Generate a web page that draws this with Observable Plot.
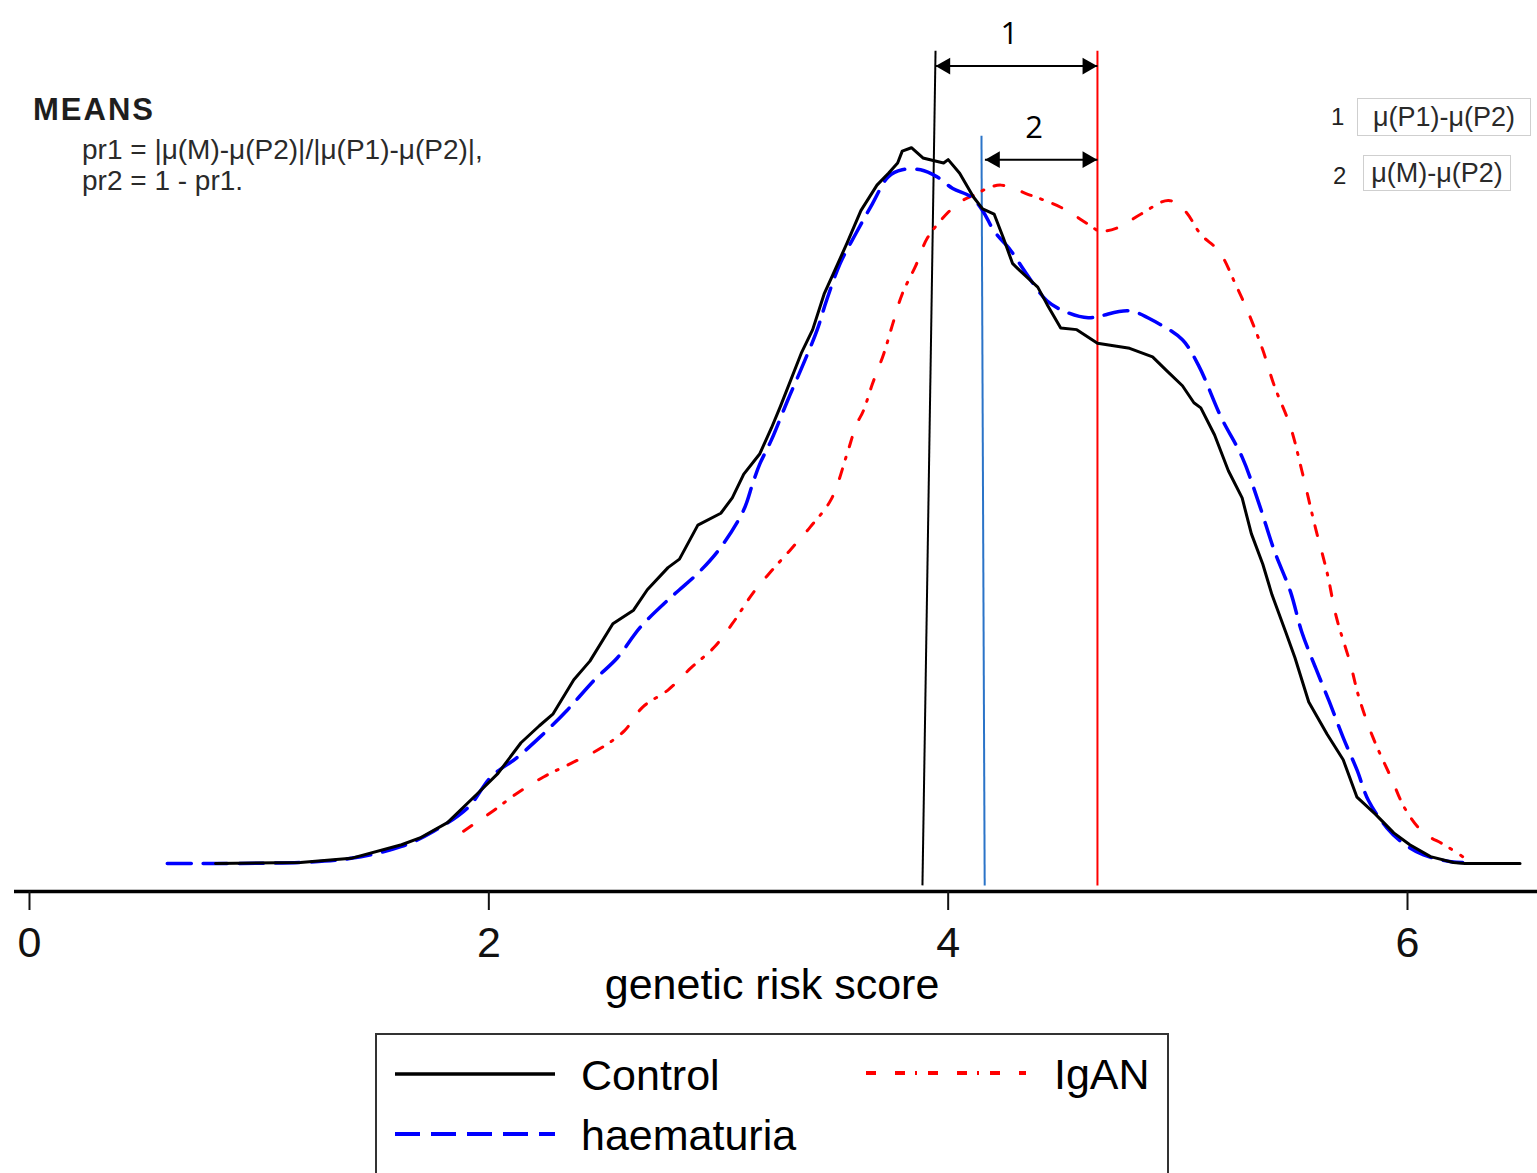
<!DOCTYPE html>
<html>
<head>
<meta charset="utf-8">
<script src="https://cdn.jsdelivr.net/npm/d3@7"></script>
<script src="https://cdn.jsdelivr.net/npm/@observablehq/plot@0.6"></script>
<style>
  html, body { margin: 0; padding: 0; background: #fff; height: 1173px; overflow: hidden; }
  body { font-family: "Liberation Sans", Arial, sans-serif; color: #000; }
  #wrap { position: relative; width: 1537px; height: 1173px; }
  #chart { position: absolute; left: 0; top: 0; }
  .note { position: absolute; white-space: nowrap; color: #2a2a2a; line-height: 1; }
  .means { left: 33px; top: 94px; font-size: 31px; font-weight: bold; letter-spacing: 2px; color: #1e1e1e; }
  .pr { left: 82px; font-size: 28px; }
  .num { font-size: 24px; color: #222; }
  .box { position: absolute; border: 1px solid #cfcfcf; display: flex; align-items: center; justify-content: center;
         font-size: 27px; color: #2a2a2a; box-sizing: border-box; white-space: nowrap; background: #fff; }
  #legend { position: absolute; left: 375px; top: 1033px; }
</style>
</head>
<body>
<div id="wrap">
  <div id="chart"></div>
  <div class="note means">MEANS</div>
  <div class="note pr" style="top:136px">pr1 = |μ(M)-μ(P2)|/|μ(P1)-μ(P2)|,</div>
  <div class="note pr" style="top:167px">pr2 = 1 - pr1.</div>
  <div class="note num" style="left:1331px; top:105px">1</div>
  <div class="box" style="left:1357px; top:98px; width:174px; height:38px">μ(P1)-μ(P2)</div>
  <div class="note num" style="left:1333px; top:164px">2</div>
  <div class="box" style="left:1363px; top:155px; width:148px; height:36px">μ(M)-μ(P2)</div>
  <div id="legend"></div>
</div>
<script>
// Kernel density estimates of the genetic risk score, one per group: [score, density]
const control = [
  [0.81,0],[1.18,0.0006],[1.40,0.003],[1.62,0.011],[1.70,0.015],[1.82,0.024],[1.95,0.041],[2.04,0.053],
  [2.14,0.071],[2.22,0.081],[2.28,0.088],[2.37,0.108],[2.44,0.119],[2.54,0.141],[2.63,0.149],[2.69,0.161],
  [2.78,0.174],[2.83,0.179],[2.91,0.199],[3.01,0.206],[3.06,0.215],[3.11,0.229],[3.18,0.241],[3.23,0.256],
  [3.27,0.269],[3.36,0.300],[3.41,0.314],[3.46,0.335],[3.50,0.347],[3.56,0.365],[3.62,0.384],[3.69,0.399],
  [3.74,0.406],[3.78,0.412],[3.80,0.419],[3.84,0.421],[3.89,0.415],[3.98,0.412],[4.00,0.414],[4.05,0.406],
  [4.11,0.392],[4.15,0.385],[4.20,0.382],[4.24,0.368],[4.28,0.353],[4.31,0.349],[4.39,0.339],[4.43,0.329],
  [4.49,0.315],[4.56,0.314],[4.65,0.306],[4.79,0.303],[4.89,0.298],[4.95,0.290],[5.02,0.281],[5.07,0.271],
  [5.10,0.268],[5.16,0.252],[5.22,0.231],[5.28,0.215],[5.32,0.194],[5.37,0.176],[5.41,0.158],[5.47,0.136],
  [5.51,0.121],[5.57,0.095],[5.65,0.076],[5.72,0.061],[5.78,0.039],[5.86,0.029],[5.94,0.018],[6.01,0.011],
  [6.10,0.004],[6.20,0.0006],[6.25,0],[6.49,0]
];
const haematuria = [
  [0.60,0],[1.18,0.0006],[1.40,0.003],[1.62,0.010],[1.76,0.019],[1.91,0.033],[2.01,0.051],[2.12,0.062],
  [2.22,0.074],[2.34,0.090],[2.46,0.108],[2.56,0.121],[2.66,0.139],[2.78,0.155],[2.83,0.161],[2.92,0.172],
  [3.01,0.186],[3.11,0.208],[3.15,0.224],[3.18,0.235],[3.23,0.249],[3.30,0.272],[3.37,0.294],[3.43,0.314],
  [3.47,0.331],[3.53,0.353],[3.60,0.371],[3.67,0.388],[3.74,0.404],[3.80,0.408],[3.88,0.408],[3.95,0.404],
  [4.02,0.397],[4.10,0.392],[4.15,0.384],[4.20,0.372],[4.27,0.361],[4.34,0.347],[4.43,0.331],[4.52,0.324],
  [4.61,0.321],[4.66,0.322],[4.79,0.325],[4.91,0.318],[5.02,0.308],[5.09,0.293],[5.19,0.262],[5.28,0.239],
  [5.35,0.213],[5.42,0.184],[5.49,0.160],[5.54,0.136],[5.60,0.115],[5.66,0.095],[5.72,0.074],[5.78,0.055],
  [5.83,0.037],[5.91,0.021],[5.98,0.012],[6.07,0.005],[6.19,0.001],[6.24,0.0006]
];
const igan = [
  [1.89,0.019],[2.02,0.031],[2.12,0.041],[2.24,0.051],[2.36,0.059],[2.49,0.068],[2.59,0.078],[2.67,0.092],
  [2.78,0.102],[2.88,0.115],[2.98,0.127],[3.06,0.141],[3.15,0.159],[3.23,0.172],[3.31,0.184],[3.40,0.198],
  [3.49,0.214],[3.56,0.241],[3.60,0.258],[3.63,0.266],[3.67,0.282],[3.72,0.300],[3.76,0.318],[3.80,0.335],
  [3.86,0.352],[3.91,0.368],[4.00,0.383],[4.05,0.389],[4.11,0.393],[4.17,0.397],[4.23,0.399],[4.36,0.393],
  [4.49,0.386],[4.61,0.376],[4.66,0.372],[4.74,0.374],[4.84,0.382],[4.96,0.390],[5.03,0.384],[5.10,0.370],
  [5.18,0.360],[5.25,0.341],[5.31,0.323],[5.37,0.302],[5.42,0.281],[5.49,0.257],[5.54,0.231],[5.60,0.197],
  [5.65,0.171],[5.69,0.145],[5.75,0.118],[5.79,0.097],[5.85,0.074],[5.93,0.050],[5.99,0.032],[6.07,0.018],
  [6.16,0.011],[6.24,0.004]
];

const groups = ["Control", "haematuria", "IgAN"];
const series = [control, haematuria, igan];

// Group means, drawn as vertical markers (Control's marker leans a little)
const meanAtBase = [3.888, 4.159, 4.650];
const meanAtTop  = [3.945, 4.145, 4.650];
const meanTopDensity = [0.478, 0.428, 0.478];

// Distances between means: 1 = μ(P1)-μ(P2), 2 = μ(M)-μ(P2)
const gapLabels = ["1", "2"];
const gapFrom = [3.944, 4.160];
const gapTo = [4.650, 4.650];
const gapDensity = [0.469, 0.414];

const xTicks = [0, 2, 4, 6];
const xTitle = "genetic risk score";

// ---- presentation ----
const W = 1537, H = 1025, axisY = 891;
const yMin = -0.0165, yMax = 0.5076;
const lineColor = {Control: "#000000", haematuria: "#0000ff", IgAN: "#ff0000"};
const meanColor = {Control: "#000000", haematuria: "#2b74c8", IgAN: "#ff0000"};
const lineDash = {Control: null, haematuria: "24,12", IgAN: "10,19,10,10,2,11"};
const lineWidth = {Control: 3, haematuria: 3.5, IgAN: 3};
const lineCurve = {Control: "linear", haematuria: "catmull-rom", IgAN: "catmull-rom"};
const font = "'Liberation Sans', Arial, sans-serif";

const curveMarks = [2, 1, 0].map(i => {
  const g = groups[i];
  return Plot.line(series[i], {
    x: d => d[0], y: d => d[1],
    stroke: lineColor[g], strokeWidth: lineWidth[g],
    strokeDasharray: lineDash[g], curve: lineCurve[g],
    strokeLinejoin: "round"
  });
});

const meanMarks = groups.map((g, i) => Plot.link([i], {
  x1: j => meanAtBase[j], y1: yMin + 0.0036,
  x2: j => meanAtTop[j], y2: j => meanTopDensity[j],
  stroke: meanColor[g], strokeWidth: 2
}));

const gi = gapLabels.map((_, i) => i);

const chart = Plot.plot({
  width: W, height: H,
  marginLeft: 14, marginRight: 0, marginTop: 0, marginBottom: H - axisY,
  x: {domain: [-0.0653, 6.566]},
  y: {domain: [yMin, yMax], axis: null},
  style: {fontFamily: font, background: "#fff", color: "#000", overflow: "visible"},
  marks: [
    ...meanMarks,
    ...curveMarks,
    Plot.ruleY([yMin], {stroke: "#000", strokeWidth: 3.5}),
    Plot.axisX({ticks: xTicks, tickSize: 19, tickPadding: 16, fontSize: 43, label: null,
                color: "#111", strokeWidth: 2, tickFormat: d => String(d)}),
    Plot.text([xTitle], {frameAnchor: "bottom", lineAnchor: "middle", dy: 94, dx: -4, fontSize: 43, fill: "#000"}),
    // double-headed arrows between the means
    Plot.link(gi, {x1: i => gapFrom[i], x2: i => gapTo[i], y1: i => gapDensity[i], y2: i => gapDensity[i],
                   stroke: "#000", strokeWidth: 2}),
    Plot.dot(gi, {x: i => gapFrom[i], y: i => gapDensity[i], symbol: "triangle", rotate: -90, r: 6.3,
                  fill: "#000", stroke: "none", dx: 10}),
    Plot.dot(gi, {x: i => gapTo[i], y: i => gapDensity[i], symbol: "triangle", rotate: 90, r: 6.3,
                  fill: "#000", stroke: "none", dx: -10}),
    Plot.text(gi, {x: i => (gapFrom[i] + gapTo[i]) / 2, y: i => gapDensity[i], text: i => gapLabels[i],
                   dy: -32, dx: -7, fontSize: 31, fill: "#000", fontFamily: "'Open Sans', sans-serif"})
  ]
});
document.getElementById("chart").appendChild(chart);

// ---- legend ----
const LW = 794, LH = 142;
const slots = {
  Control:    {x: 20,  y: 41,  tx: 206},
  IgAN:       {x: 491, y: 40,  tx: 679},
  haematuria: {x: 20,  y: 101, tx: 206}
};
const leg = d3.select("#legend").append("svg").attr("width", LW).attr("height", LH);
leg.append("rect").attr("x", 1).attr("y", 1).attr("width", LW - 2).attr("height", LH - 2)
  .attr("fill", "#fff").attr("stroke", "#333").attr("stroke-width", 2);
groups.forEach(g => {
  const s = slots[g];
  leg.append("line").attr("x1", s.x).attr("x2", s.x + 160).attr("y1", s.y).attr("y2", s.y)
    .attr("stroke", lineColor[g]).attr("stroke-width", g === "Control" ? 3.5 : 4)
    .attr("stroke-dasharray", lineDash[g] === "24,12" ? "25,11" : lineDash[g]);
  leg.append("text").attr("x", s.tx).attr("y", s.y + 1).attr("dy", "0.36em")
    .attr("font-family", font).attr("font-size", 43).attr("fill", "#000").text(g);
});
</script>
</body>
</html>
